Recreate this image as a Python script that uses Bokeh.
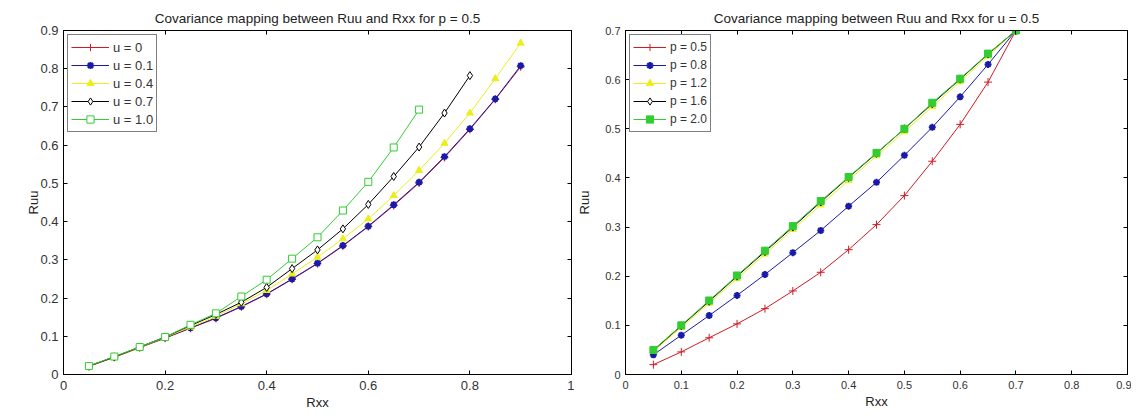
from bokeh.plotting import figure
from bokeh.layouts import row
from bokeh.models import LinearAxis, FixedTicker, Legend, LegendItem, Range1d
from bokeh.embed import file_html
from bokeh.resources import INLINE

# ---------------- data: left panel (p = 0.5) ----------------
left_x_long = [0.05, 0.10, 0.15, 0.20, 0.25, 0.30, 0.35, 0.40, 0.45, 0.50,
               0.55, 0.60, 0.65, 0.70, 0.75, 0.80, 0.85, 0.90]
left_x_u07 = [0.05, 0.10, 0.15, 0.20, 0.25, 0.30, 0.35, 0.40, 0.45, 0.50,
              0.55, 0.60, 0.65, 0.70, 0.75, 0.80]
left_x_u10 = [0.05, 0.10, 0.15, 0.20, 0.25, 0.30, 0.35, 0.40, 0.45, 0.50,
              0.55, 0.60, 0.65, 0.70]
ruu_u00 = [0.021, 0.045, 0.070, 0.095, 0.121, 0.147, 0.177, 0.210, 0.249, 0.290,
           0.336, 0.387, 0.442, 0.501, 0.568, 0.641, 0.720, 0.805]
ruu_u01 = [0.022, 0.046, 0.071, 0.096, 0.122, 0.148, 0.178, 0.211, 0.250, 0.291,
           0.3375, 0.388, 0.444, 0.503, 0.570, 0.643, 0.721, 0.808]
ruu_u04 = [0.022, 0.046, 0.071, 0.097, 0.124, 0.152, 0.185, 0.220, 0.263, 0.307,
           0.355, 0.407, 0.468, 0.534, 0.605, 0.684, 0.774, 0.867]
ruu_u07 = [0.022, 0.046, 0.072, 0.098, 0.128, 0.157, 0.189, 0.228, 0.277, 0.326,
           0.381, 0.445, 0.518, 0.595, 0.684, 0.782]
ruu_u10 = [0.022, 0.047, 0.072, 0.098, 0.130, 0.160, 0.204, 0.248, 0.303, 0.359,
           0.429, 0.504, 0.594, 0.693]

# ---------------- data: right panel (u = 0.5) ----------------
right_x = [0.05, 0.10, 0.15, 0.20, 0.25, 0.30, 0.35, 0.40, 0.45, 0.50,
           0.55, 0.60, 0.65, 0.70]
ruu_p05 = [0.020, 0.046, 0.0747, 0.103, 0.134, 0.170, 0.208, 0.254, 0.305, 0.364,
           0.434, 0.509, 0.595, 0.700]
ruu_p08 = [0.040, 0.080, 0.120, 0.161, 0.2035, 0.248, 0.293, 0.3425, 0.391, 0.446,
           0.503, 0.565, 0.631, 0.700]
ruu_p12 = [0.047, 0.096, 0.145, 0.195, 0.245, 0.295, 0.345, 0.395, 0.445, 0.494,
           0.545, 0.596, 0.648, 0.700]
ruu_p16 = [0.049, 0.099, 0.149, 0.200, 0.250, 0.300, 0.351, 0.401, 0.450, 0.500,
           0.551, 0.601, 0.652, 0.700]
ruu_p20 = [0.050, 0.100, 0.1506, 0.2015, 0.252, 0.302, 0.353, 0.402, 0.451, 0.500,
           0.553, 0.602, 0.653, 0.700]

left_labels = ["u = 0", "u = 0.1", "u = 0.4", "u = 0.7", "u = 1.0"]
right_labels = ["p = 0.5", "p = 0.8", "p = 1.2", "p = 1.6", "p = 2.0"]

left_xticks = [0, 0.2, 0.4, 0.6, 0.8, 1.0]
left_xtick_labels = ["0", "0.2", "0.4", "0.6", "0.8", "1"]
left_yticks = [0, 0.1, 0.2, 0.3, 0.4, 0.5, 0.6, 0.7, 0.8, 0.9]
left_ytick_labels = ["0", "0.1", "0.2", "0.3", "0.4", "0.5", "0.6", "0.7", "0.8", "0.9"]
right_xticks = [0, 0.1, 0.2, 0.3, 0.4, 0.5, 0.6, 0.7, 0.8, 0.9]
right_xtick_labels = ["0", "0.1", "0.2", "0.3", "0.4", "0.5", "0.6", "0.7", "0.8", "0.9"]
right_yticks = [0, 0.1, 0.2, 0.3, 0.4, 0.5, 0.6, 0.7]
right_ytick_labels = ["0", "0.1", "0.2", "0.3", "0.4", "0.5", "0.6", "0.7"]

RED = "#d01a24"
BLUE = "#1a1aa8"
YELLOW = "#eded1e"
BLACK = "#000000"
GREEN = "#33cc33"
FONT = "Liberation Sans"


def style_axes(p, xticks, xlabels, yticks, ylabels, tick_size, ylabel_standoff):
    xo = {t: l for t, l in zip(xticks, xlabels)}
    yo = {t: l for t, l in zip(yticks, ylabels)}
    p.xaxis.ticker = FixedTicker(ticks=xticks)
    p.yaxis.ticker = FixedTicker(ticks=yticks)
    p.xaxis.major_label_overrides = xo
    p.yaxis.major_label_overrides = yo
    for ax in (p.xaxis[0], p.yaxis[0]):
        ax.major_tick_in = 4
        ax.major_tick_out = 0
        ax.minor_tick_line_color = None
        ax.axis_line_color = "black"
        ax.major_tick_line_color = "black"
        ax.major_label_text_font = FONT
        ax.major_label_text_font_size = tick_size
        ax.major_label_text_color = "#333333"
        ax.axis_label_text_font = FONT
        ax.axis_label_text_font_size = "13px"
        ax.axis_label_text_font_style = "normal"
        ax.axis_label_text_color = "#222222"
    p.xaxis.major_label_standoff = 6
    p.xaxis.axis_label_standoff = 2
    p.yaxis.major_label_standoff = 5
    p.yaxis.axis_label_standoff = ylabel_standoff
    # mirrored axes (ticks only, no labels)
    top = LinearAxis(ticker=FixedTicker(ticks=xticks), major_tick_in=4, major_tick_out=0,
                     minor_tick_line_color=None, major_label_text_font_size="0px",
                     major_label_text_color=None,
                     major_label_standoff=0, axis_line_color="black")
    right = LinearAxis(ticker=FixedTicker(ticks=yticks), major_tick_in=4, major_tick_out=0,
                       minor_tick_line_color=None, major_label_text_font_size="0px",
                       major_label_text_color=None,
                       major_label_standoff=0, axis_line_color="black")
    p.add_layout(top, "above")
    p.add_layout(right, "right")
    p.grid.visible = False
    p.outline_line_color = "black"
    p.title.text_font = FONT
    p.title.text_font_size = "13.5px"
    p.title.text_font_style = "normal"
    p.title.text_color = "#222222"
    p.title.align = "center"


def make_legend(items, font_size, glyph_w):
    lg = Legend(items=items, location="top_left")
    lg.border_line_color = "black"
    lg.border_line_width = 1
    lg.padding = 3
    lg.spacing = 0
    lg.margin = 4
    lg.label_text_font = FONT
    lg.label_text_font_size = font_size
    lg.label_text_color = "#333333"
    lg.glyph_width = glyph_w
    lg.glyph_height = 18
    lg.label_height = 18
    lg.label_standoff = 4
    return lg


def add_series(p, x, y, color, marker, fill, size, lw_marker=1):
    ln = p.line(x, y, line_color=color, line_width=1)
    sc = p.scatter(x, y, marker=marker, size=size, line_color=color,
                   fill_color=fill, line_width=lw_marker)
    return [ln, sc]


# ---------------- left figure ----------------
p1 = figure(width=574, height=412, output_backend="svg", toolbar_location=None,
            x_range=Range1d(0, 1), y_range=Range1d(0, 0.9),
            title="Covariance mapping between Ruu and Rxx for p = 0.5",
            x_axis_label="Rxx", y_axis_label="Ruu",
            min_border_left=63, min_border_right=3, min_border_top=30,
            min_border_bottom=38)
style_axes(p1, left_xticks, left_xtick_labels, left_yticks, left_ytick_labels, "13px", -4)

l_items = []
l_items.append(LegendItem(label=left_labels[0],
                          renderers=add_series(p1, left_x_long, ruu_u00, RED, "cross", None, 8)))
l_items.append(LegendItem(label=left_labels[1],
                          renderers=add_series(p1, left_x_long, ruu_u01, BLUE, "asterisk", None, 7, 2)))
l_items.append(LegendItem(label=left_labels[2],
                          renderers=add_series(p1, left_x_long, ruu_u04, YELLOW, "triangle", YELLOW, 7)))
l_items.append(LegendItem(label=left_labels[3],
                          renderers=add_series(p1, left_x_u07, ruu_u07, BLACK, "diamond", "white", 8)))
l_items.append(LegendItem(label=left_labels[4],
                          renderers=add_series(p1, left_x_u10, ruu_u10, GREEN, "square", "white", 7)))
p1.add_layout(make_legend(l_items, "13px", 38))

# ---------------- right figure ----------------
p2 = figure(width=557, height=412, output_backend="svg", toolbar_location=None,
            x_range=Range1d(0, 0.9), y_range=Range1d(0, 0.7),
            title="Covariance mapping between Ruu and Rxx for u = 0.5",
            x_axis_label="Rxx", y_axis_label="Ruu",
            min_border_left=50, min_border_right=4, min_border_top=30,
            min_border_bottom=38)
style_axes(p2, right_xticks, right_xtick_labels, right_yticks, right_ytick_labels, "11px", 10)

r_items = []
r_items.append(LegendItem(label=right_labels[0],
                          renderers=add_series(p2, right_x, ruu_p05, RED, "cross", None, 8)))
r_items.append(LegendItem(label=right_labels[1],
                          renderers=add_series(p2, right_x, ruu_p08, BLUE, "asterisk", None, 7, 2)))
r_items.append(LegendItem(label=right_labels[2],
                          renderers=add_series(p2, right_x, ruu_p12, YELLOW, "triangle", YELLOW, 7)))
r_items.append(LegendItem(label=right_labels[3],
                          renderers=add_series(p2, right_x, ruu_p16, BLACK, "diamond", "white", 8)))
r_items.append(LegendItem(label=right_labels[4],
                          renderers=add_series(p2, right_x, ruu_p20, GREEN, "square", GREEN, 7)))
p2.add_layout(make_legend(r_items, "12px", 33))

layout = row(p1, p2)
open("out.html", "w").write(file_html(layout, INLINE))
